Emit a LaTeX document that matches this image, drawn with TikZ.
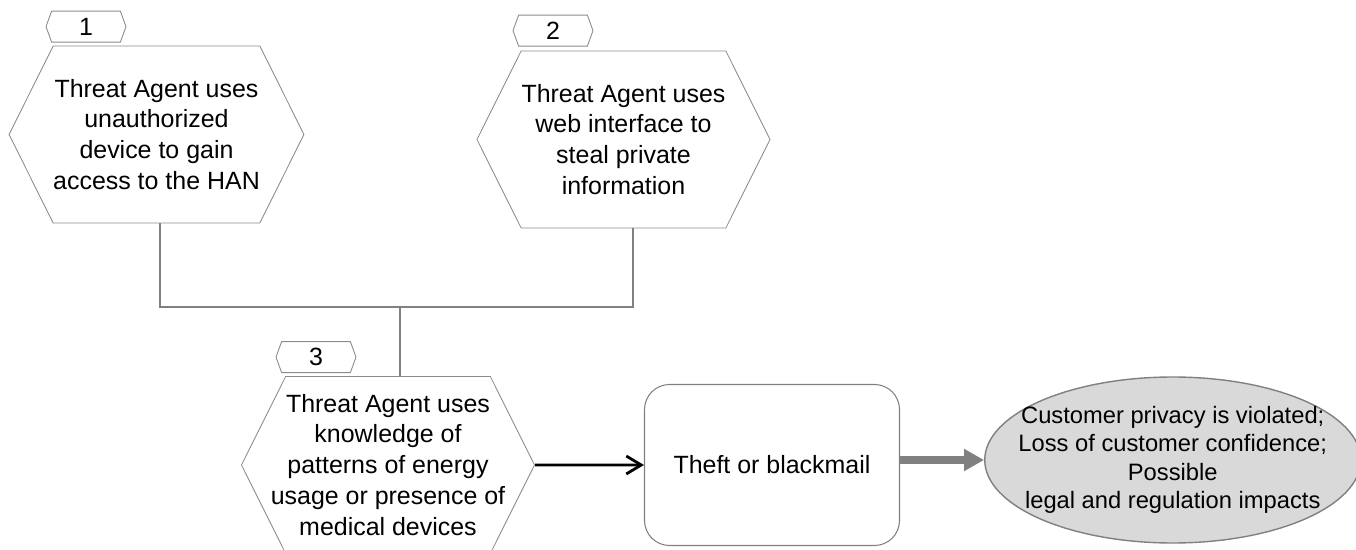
\documentclass[tikz,border=0pt]{standalone}
\usepackage{fontspec}
\setmainfont{Liberation Sans}
\usepackage{tikz}
\usetikzlibrary{arrows,arrows.meta,shapes.symbols,shapes.geometric}
\usetikzlibrary{positioning}

\begin{document}
\begin{tikzpicture} [every node/.style={font=\fontsize{14.2pt}{17.6pt}\selectfont,align=center,inner sep=0pt},
hex/.style={draw=gray!90,line width=0.5pt,signal,signal to=west and east,signal pointer angle=127,minimum width=5.86cm,minimum height=3.54cm},
tag/.style={draw=gray!90,line width=0.5pt,signal,signal to=west and east,signal pointer angle=140,minimum width=1.6cm,minimum height=0.62cm},
link/.style={draw=gray,line width=1.1pt}]
\useasboundingbox (0,0) rectangle (27.12,-11);
\node[hex] (a) at (3.13,-2.69) {Threat Agent uses\\unauthorized\\device to gain\\access to the HAN};
\node[hex] (b) at (12.47,-2.79) {Threat Agent uses\\web interface to\\steal private\\information};
\node[hex,inner xsep=-0.4cm] (c) at (7.76,-9.30) {Threat Agent uses\\knowledge of\\patterns of energy\\usage or presence of\\medical devices};
\node[tag] (ta) [above=0.06cm of a.north, xshift=-1.41cm] {1};
\node[tag] (tb) [above=0.08cm of b.north, xshift=-1.41cm] {2};
\node[tag] (tc) [above=0.06cm of c.north, xshift=-1.44cm] {3};
\node[draw=gray,line width=0.6pt,rounded corners=0.5cm,minimum width=5.1cm,minimum height=3.22cm] (d) [right=2.18cm of c] {Theft or blackmail};
\node[ellipse,draw=gray,line width=0.8pt,fill=gray!30,inner xsep=-0.45cm,minimum width=7.52cm,minimum height=3.32cm,font=\fontsize{13.5pt}{16.2pt}\selectfont] (e) [right=1.68cm of d, yshift=0.1cm] {Customer privacy is violated;\\Loss of customer confidence;\\Possible\\legal and regulation impacts};

\coordinate (j) at ([xshift=0.24cm,yshift=1.38cm]c.north);
\draw[link]([xshift=0.07cm]a.south)|-(j)-|([xshift=0.19cm]b.south);
\draw[link](j)--([xshift=0.24cm]c.north);
\draw[-{Straight Barb[length=0.3cm,width=0.36cm]},line width=1.6pt](c)--(d);
\draw[-{Triangle[length=0.4cm,width=0.42cm]},line width=4pt,gray](d.east |- e.west)--(e.west);
\end{tikzpicture}
\end{document}
